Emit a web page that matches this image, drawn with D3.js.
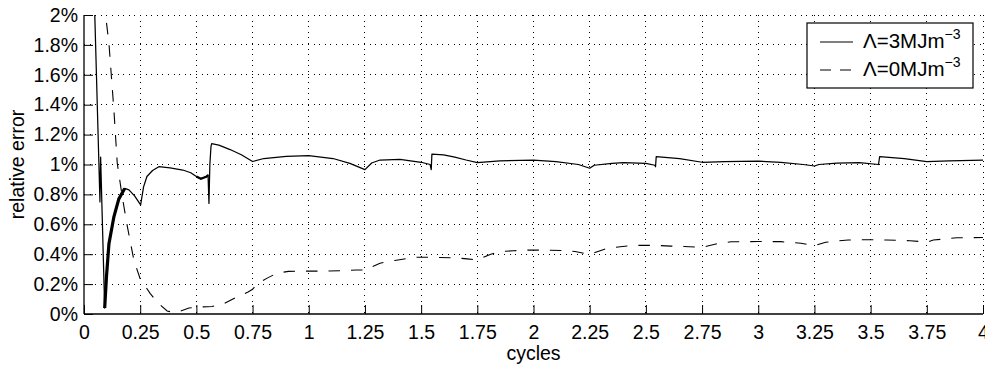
<!DOCTYPE html>
<html>
<head>
<meta charset="utf-8">
<script src="https://cdn.jsdelivr.net/npm/d3@7"></script>
<style>
  body { margin: 0; background: #fff; }
  svg text { font-family: "Liberation Sans", Arial, Helvetica, sans-serif; fill: #000; }
</style>
</head>
<body>
<div id="chart"></div>
<script>
// cycles vs relative error (%)
const lambda3 = [
  [0.04, 3.5], [0.048, 2.0], [0.071, 0.75], [0.074, 1.05], [0.092, 0.04], [0.1, 0.25],
  [0.111, 0.47], [0.133, 0.65], [0.155, 0.77], [0.181, 0.84], [0.2, 0.83], [0.225, 0.79],
  [0.252, 0.73], [0.265, 0.85], [0.28, 0.92], [0.305, 0.96], [0.333, 0.985], [0.383, 0.977],
  [0.44, 0.963], [0.475, 0.945], [0.5, 0.92], [0.52, 0.905], [0.546, 0.92], [0.552, 0.93],
  [0.556, 0.74], [0.56, 1.0], [0.565, 1.12], [0.568, 1.14], [0.6, 1.13], [0.65, 1.1],
  [0.7, 1.065], [0.75, 1.02], [0.8, 1.04], [0.9, 1.055], [1.0, 1.06], [1.108, 1.04],
  [1.183, 1.008], [1.25, 0.966], [1.28, 1.01], [1.317, 1.03], [1.406, 1.035], [1.5, 1.015],
  [1.54, 1.0], [1.545, 0.966], [1.548, 1.07], [1.6, 1.065], [1.65, 1.05], [1.7, 1.03],
  [1.75, 1.012], [1.85, 1.025], [2.0, 1.03], [2.1, 1.02], [2.2, 1.0], [2.25, 0.975],
  [2.27, 0.995], [2.35, 1.008], [2.4, 1.012], [2.5, 1.008], [2.54, 0.995], [2.543, 0.985],
  [2.546, 1.052], [2.65, 1.04], [2.75, 1.015], [2.85, 1.02], [3.0, 1.023], [3.1, 1.015],
  [3.2, 1.0], [3.25, 0.99], [3.27, 1.0], [3.35, 1.01], [3.45, 1.012], [3.535, 1.0],
  [3.54, 1.052], [3.65, 1.04], [3.75, 1.02], [3.85, 1.025], [4.0, 1.03]
];

const lambda0 = [
  [0.08, 3.0], [0.096, 2.0], [0.111, 1.81], [0.133, 1.365], [0.148, 1.008], [0.17, 0.785],
  [0.193, 0.584], [0.222, 0.36], [0.249, 0.239], [0.294, 0.138], [0.33, 0.073], [0.37, 0.02],
  [0.4, 0.01], [0.418, 0.013], [0.467, 0.04], [0.52, 0.047], [0.57, 0.05], [0.62, 0.067],
  [0.68, 0.114], [0.73, 0.147], [0.75, 0.165], [0.77, 0.2], [0.815, 0.24], [0.86, 0.274],
  [0.91, 0.285], [0.965, 0.287], [1.06, 0.287], [1.15, 0.29], [1.213, 0.294], [1.25, 0.294],
  [1.317, 0.34], [1.39, 0.36], [1.48, 0.38], [1.55, 0.379], [1.65, 0.375], [1.705, 0.369],
  [1.75, 0.362], [1.81, 0.40], [1.855, 0.418], [1.91, 0.423], [1.96, 0.427], [2.02, 0.427],
  [2.13, 0.425], [2.185, 0.418], [2.25, 0.399], [2.33, 0.44], [2.386, 0.45], [2.44, 0.459],
  [2.55, 0.459], [2.61, 0.454], [2.67, 0.452], [2.75, 0.445], [2.82, 0.471], [2.88, 0.483],
  [3.0, 0.485], [3.1, 0.484], [3.19, 0.473], [3.25, 0.457], [3.3, 0.48], [3.35, 0.488],
  [3.4, 0.495], [3.46, 0.497], [3.51, 0.497], [3.57, 0.495], [3.675, 0.49], [3.727, 0.484],
  [3.75, 0.48], [3.779, 0.495], [3.83, 0.502], [3.883, 0.51], [3.94, 0.51], [4.0, 0.512]
];

const xTicks = [0, 0.25, 0.5, 0.75, 1, 1.25, 1.5, 1.75, 2, 2.25, 2.5, 2.75, 3, 3.25, 3.5, 3.75, 4];
const yTicks = [0, 0.2, 0.4, 0.6, 0.8, 1, 1.2, 1.4, 1.6, 1.8, 2];
const legendLabels = ["Λ=3MJm", "Λ=0MJm"];

const width = 985, height = 372;
const margin = { top: 15, right: 2, bottom: 58, left: 84 };
const innerW = width - margin.left - margin.right;
const innerH = height - margin.top - margin.bottom;
const fontSize = 19.5;

const svg = d3.select("#chart").append("svg")
  .attr("width", width)
  .attr("height", height);

const x = d3.scaleLinear().domain([0, 4]).range([0, innerW]);
const y = d3.scaleLinear().domain([0, 2]).range([innerH, 0]);

const g = svg.append("g").attr("transform", "translate(" + margin.left + "," + margin.top + ")");

svg.append("defs").append("clipPath").attr("id", "clip")
  .append("rect").attr("width", innerW).attr("height", innerH);

// dotted grid
g.append("g").selectAll("line").data(xTicks.slice(1)).join("line")
  .attr("x1", d => x(d)).attr("x2", d => x(d))
  .attr("y1", 0).attr("y2", innerH)
  .attr("stroke", "#000").attr("stroke-width", 1)
  .attr("stroke-dasharray", "1,4.6").attr("shape-rendering", "crispEdges");
g.append("g").selectAll("line").data(yTicks.slice(1)).join("line")
  .attr("x1", 0).attr("x2", innerW)
  .attr("y1", d => y(d)).attr("y2", d => y(d))
  .attr("stroke", "#000").attr("stroke-width", 1)
  .attr("stroke-dasharray", "1,4.6").attr("shape-rendering", "crispEdges");

// axes with inward ticks
const xAxis = g.append("g")
  .attr("transform", "translate(0," + innerH + ")")
  .call(d3.axisBottom(x).tickValues(xTicks).tickSize(-9).tickPadding(11).tickFormat(d3.format("")));
const yAxis = g.append("g")
  .call(d3.axisLeft(y).tickValues(yTicks).tickSize(-9).tickPadding(6).tickFormat(d => d3.format("")(+d.toFixed(1)) + "%"));

[xAxis, yAxis].forEach(a => {
  a.select(".domain").attr("stroke", "#000").attr("stroke-width", 1.3);
  a.selectAll(".tick line").attr("stroke", "#000").attr("stroke-width", 1);
  a.selectAll(".tick text").attr("font-size", fontSize).attr("font-family", "'Liberation Sans', Arial, sans-serif");
});
xAxis.select(".domain").attr("d", "M0,0H" + innerW);
yAxis.select(".domain").attr("d", "M0," + innerH + "V0");

// axis labels
svg.append("text")
  .attr("x", margin.left + innerW / 2).attr("y", 360)
  .attr("text-anchor", "middle").attr("font-size", fontSize)
  .text("cycles");
svg.append("text")
  .attr("transform", "translate(24," + (margin.top + innerH / 2) + ") rotate(-90)")
  .attr("text-anchor", "middle").attr("font-size", fontSize)
  .text("relative error");

// series
const line = d3.line().x(d => x(d[0])).y(d => y(d[1]));
const plot = g.append("g").attr("clip-path", "url(#clip)");

plot.append("path").datum(lambda0)
  .attr("fill", "none").attr("stroke", "#000").attr("stroke-width", 1.1)
  .attr("stroke-dasharray", "11.5,11").attr("d", line);

plot.append("path").datum(lambda3)
  .attr("fill", "none").attr("stroke", "#000").attr("stroke-width", 1.25)
  .attr("stroke-linejoin", "round").attr("d", line);

// noisy stretches are drawn heavier
plot.append("path").datum(lambda3.filter(d => d[0] >= 0.092 && d[0] <= 0.181))
  .attr("fill", "none").attr("stroke", "#000").attr("stroke-width", 3.2)
  .attr("d", line);
plot.append("path").datum(lambda3.filter(d => d[0] >= 0.5 && d[0] <= 0.552))
  .attr("fill", "none").attr("stroke", "#000").attr("stroke-width", 2.2)
  .attr("d", line);

// legend
const legend = svg.append("g").attr("transform", "translate(807,23)");
legend.append("rect")
  .attr("width", 166).attr("height", 65)
  .attr("fill", "#fff").attr("stroke", "#000").attr("stroke-width", 1.2);
const dashes = [null, "11,9"];
legendLabels.forEach((lab, i) => {
  const ly = 19 + i * 28;
  legend.append("line")
    .attr("x1", 13).attr("x2", 46).attr("y1", ly).attr("y2", ly)
    .attr("stroke", "#000").attr("stroke-width", 1.1)
    .attr("stroke-dasharray", dashes[i]);
  const t = legend.append("text")
    .attr("x", 56).attr("y", ly + 6).attr("font-size", 20.5);
  t.append("tspan").text(lab);
  t.append("tspan").attr("font-size", 14).attr("dy", -9).text("−3");
});
</script>
</body>
</html>
